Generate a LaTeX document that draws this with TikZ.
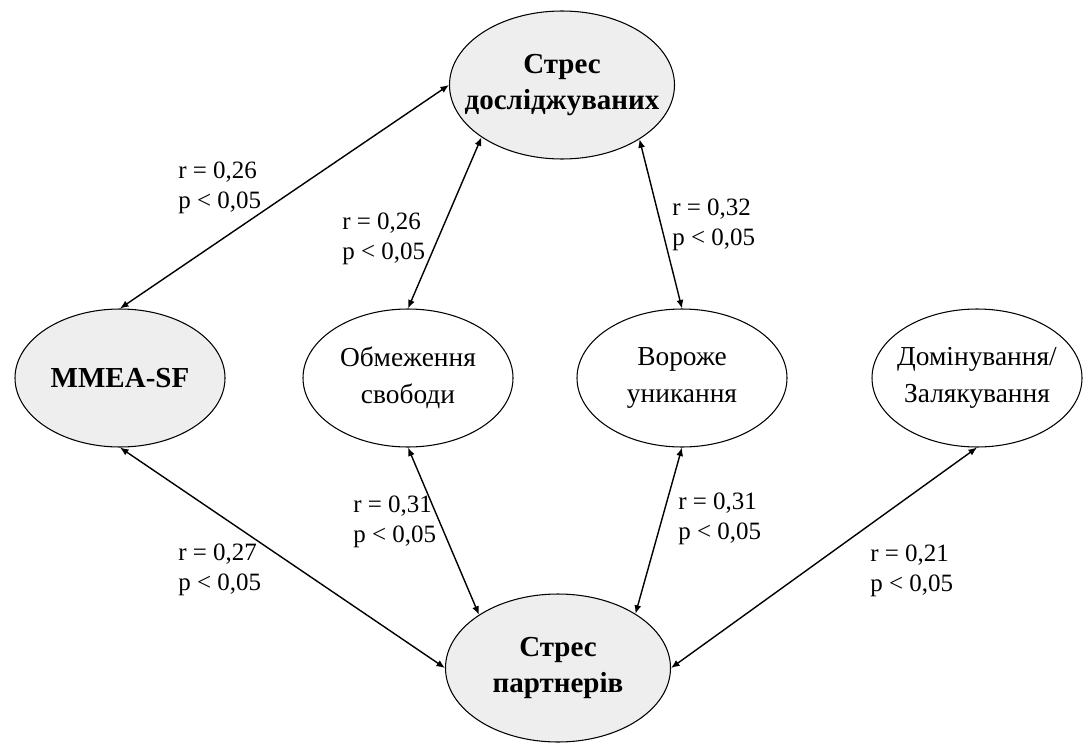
\documentclass[tikz,border=0pt]{standalone}
\usepackage{fontspec}
\setmainfont{Liberation Serif}
\usetikzlibrary{calc, positioning, arrows.meta, shapes.geometric}

% keep a line from widening the ellipse
\newcommand{\fitline}[1]{\makebox[0pt]{#1}}

\begin{document}
\begin{tikzpicture}[
		on grid,
		>={Latex[length=1.7mm,width=1.4mm]},
		stressbox/.style={draw, line width=0.6pt, ellipse, fill=gray!13, inner sep=0pt, minimum width=4.5cm, minimum height=2.96cm, align=center, font=\fontsize{16.5}{21}\selectfont\bfseries},
		factorbox/.style={draw, line width=0.6pt, ellipse, inner sep=0pt, minimum width=4.2cm, minimum height=2.76cm, align=center, font=\fontsize{15.6}{21}\selectfont},
		corrlabel/.style={anchor=west, align=left, inner sep=0pt, font=\fontsize{14.2}{17}\selectfont},
		link/.style={<->, line width=0.8pt}
	]
	\useasboundingbox (0,0) rectangle (21.68,14.88);

	\node[factorbox, fill=gray!13, font=\fontsize{16.5}{21}\selectfont\bfseries] (mmea) at (2.4,7.32) {MMEA-SF};
	\node[factorbox, right=5.76cm of mmea] (restrict) {\fitline{Обмеження}\\\fitline{свободи}};
	\node[factorbox, right=5.48cm of restrict] (hostile) {\fitline{Вороже}\\\fitline{уникання}};
	\node[factorbox, right=5.9cm of hostile] (domin) {\fitline{Домінування/}\\\fitline{Залякування}};

	\coordinate (mid) at ($(restrict)!0.5!(hostile)$);
	\node[stressbox] (own) at ($(mid)+(0.34,5.86)$) {\fitline{Стрес}\\\fitline{досліджуваних}};
	\node[stressbox] (part) at ($(mid)+(0.26,-5.8)$) {\fitline{Стрес}\\\fitline{партнерів}};

	\draw[link] (mmea.north) -- (own.west);
	\draw[link] (own.213) -- (restrict.north);
	\draw[link] (own.325) -- (hostile.north);
	\draw[link] (mmea.south) -- (part.west);
	\draw[link] (restrict.south) -- (part.146);
	\draw[link] (hostile.south) -- (part.35);
	\draw[link] (domin.south) -- (part.east);

	\node[corrlabel] (rMmeaOwn) at (3.56,11.12) {r = 0,26\\p < 0,05};
	\node[corrlabel] (rRestrictOwn) at (6.84,10.10) {r = 0,26\\p < 0,05};
	\node[corrlabel] (rHostileOwn) at (13.44,10.38) {r = 0,32\\p < 0,05};
	\node[corrlabel] (rMmeaPart) at (3.56,3.48) {r = 0,27\\p < 0,05};
	\node[corrlabel] (rRestrictPart) at (7.06,4.44) {r = 0,31\\p < 0,05};
	\node[corrlabel] (rHostilePart) at (13.56,4.50) {r = 0,31\\p < 0,05};
	\node[corrlabel] (rDominPart) at (17.4,3.46) {r = 0,21\\p < 0,05};
\end{tikzpicture}
\end{document}
